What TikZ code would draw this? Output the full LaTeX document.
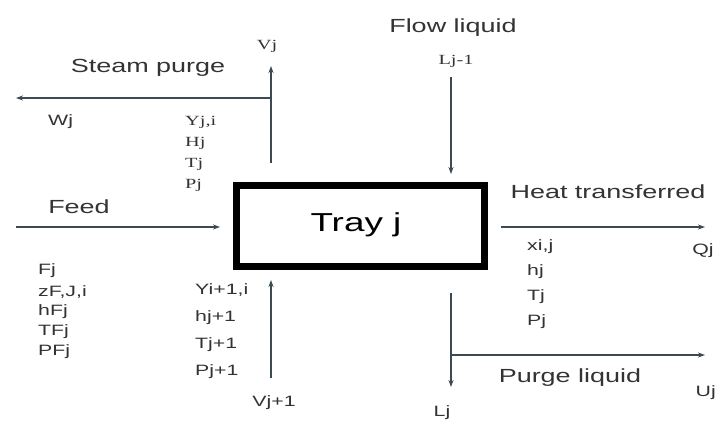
\documentclass[tikz,border=0pt]{standalone}
\usepackage{fontspec}
\setmainfont[FakeStretch=1.42]{Liberation Sans}
\newfontfamily\serifl[FakeStretch=1.45]{Liberation Serif}
\usetikzlibrary{arrows.meta}
\definecolor{arrcol}{HTML}{3C4B52}
\definecolor{txtcol}{HTML}{333333}
\tikzset{
  arr/.style={draw=arrcol, line width=1.6pt, -{Stealth[length=7pt,width=5pt]}},
  big/.style={text=txtcol, font=\fontsize{19}{22}\selectfont, inner sep=0pt, anchor=base},
  sml/.style={text=txtcol, font=\fontsize{15}{18}\selectfont, inner sep=0pt, anchor=west},
  ser/.style={text=txtcol, font=\serifl\fontsize{14}{16}\selectfont, inner sep=0pt, anchor=west},
  traybox/.style={draw=black, line width=7pt, minimum width=248pt, minimum height=81pt, inner sep=0pt}
}
\begin{document}
\begin{tikzpicture}[x=1pt,y=-1pt]
\useasboundingbox (0,0) rectangle (718,424);
\node[traybox] (tray) at (360.5,226) {};
\node[text=black, font=\fontsize{26}{30}\selectfont, inner sep=0pt, anchor=base] (trayt) at (356,231) {Tray j};

% Steam purge / Vj
\coordinate (vjbot) at (271,163);
\coordinate (vjtop) at (271,66);
\coordinate (vjbr) at (271,98);
\coordinate (wjend) at (16,98);
\draw[arr] (vjbot) -- (vjtop);
\draw[arr] (vjbr) -- (wjend);
\node[ser, anchor=center] (vj) at (267,46) {Vj};
\node[big] (steam) at (148,72) {Steam purge};
\node[sml] (wj) at (48,122) {Wj};
\node[ser] (yji) at (185,122) {Yj,i};
\node[ser] (hj1) at (185,143) {Hj};
\node[ser] (tj1) at (185,164) {Tj};
\node[ser] (pj1) at (185,185) {Pj};

% Flow liquid
\node[big] (flow) at (453,32) {Flow liquid};
\node[ser, anchor=center] (lj1) at (456,61) {Lj-1};
\coordinate (flowtop) at (451,77);
\coordinate (flowbot) at (451,174);
\draw[arr] (flowtop) -- (flowbot);

% Feed
\node[big] (feed) at (79,213) {Feed};
\coordinate (feedS) at (16,227);
\coordinate (feedE) at (220,227);
\draw[arr] (feedS) -- (feedE);
\node[sml] (fj) at (38,271) {Fj};
\node[sml] (zf) at (38,292) {zF,J,i};
\node[sml] (hf) at (38,312) {hFj};
\node[sml] (tf) at (38,332) {TFj};
\node[sml] (pf) at (38,352) {PFj};

% Vj+1
\coordinate (vj1bot) at (271,378);
\coordinate (vj1top) at (271,280);
\draw[arr] (vj1bot) -- (vj1top);
\node[sml, anchor=center] (vj1) at (274,403) {Vj+1};
\node[sml] (yi1) at (195,290) {Yi+1,i};
\node[sml] (hjp) at (195,318) {hj+1};
\node[sml] (tjp) at (195,345) {Tj+1};
\node[sml] (pjp) at (195,372) {Pj+1};

% Heat transferred
\node[big] (heat) at (608,198) {Heat transferred};
\coordinate (heatS) at (501,227);
\coordinate (heatE) at (705,227);
\draw[arr] (heatS) -- (heatE);
\node[sml, anchor=center] (qj) at (703,251) {Qj};
\node[sml] (xij) at (527,247) {xi,j};
\node[sml] (hj2) at (527,272) {hj};
\node[sml] (tj2) at (527,297) {Tj};
\node[sml] (pj2) at (527,322) {Pj};

% Lj / purge liquid
\coordinate (ljtop) at (451,293);
\coordinate (ljbot) at (451,387);
\coordinate (ljbr) at (451,355);
\coordinate (ujE) at (705,355);
\draw[arr] (ljtop) -- (ljbot);
\draw[arr] (ljbr) -- (ujE);
\node[big] (purge) at (570,382) {Purge liquid};
\node[sml, anchor=east] (uj) at (716,393) {Uj};
\node[sml, anchor=center] (lj) at (442,413) {Lj};
\end{tikzpicture}
\end{document}
